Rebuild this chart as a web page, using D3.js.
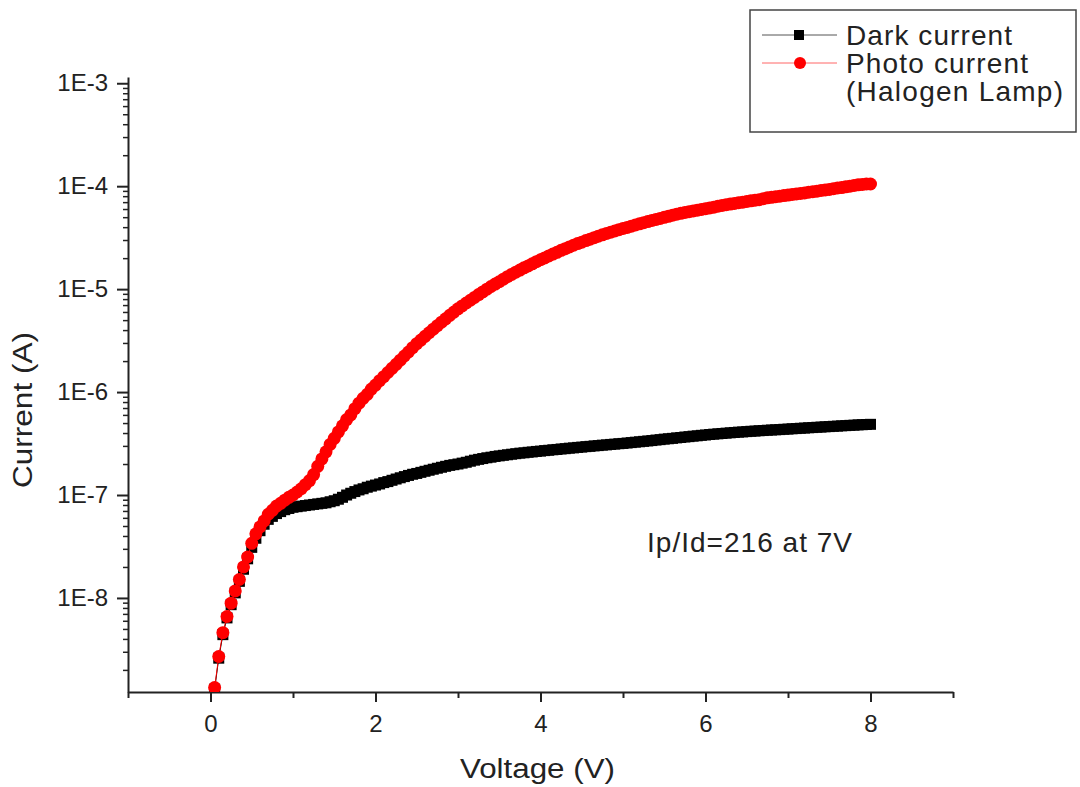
<!DOCTYPE html>
<html>
<head>
<meta charset="utf-8">
<script src="https://cdn.jsdelivr.net/npm/d3@7"></script>
<style>
  body { margin: 0; background: #fff; }
  svg { display: block; font-family: "Liberation Sans", Arial, sans-serif; }
  .axis path, .axis line { stroke: #222; }
  .axis text { fill: #222; font-size: 24px; font-family: "Liberation Sans", Arial, sans-serif; }
</style>
</head>
<body>
<div id="chart"></div>
<script>
// voltage sweep (V)
var voltage = [
  0.05, 0.10, 0.15, 0.20, 0.25, 0.30, 0.35, 0.40, 0.45, 0.50,
  0.55, 0.60, 0.65, 0.70, 0.75, 0.80, 0.85, 0.90, 0.95, 1.00,
  1.05, 1.10, 1.15, 1.20, 1.25, 1.30, 1.35, 1.40, 1.45, 1.50,
  1.55, 1.60, 1.65, 1.70, 1.75, 1.80, 1.85, 1.90, 1.95, 2.00,
  2.05, 2.10, 2.15, 2.20, 2.25, 2.30, 2.35, 2.40, 2.45, 2.50,
  2.55, 2.60, 2.65, 2.70, 2.75, 2.80, 2.85, 2.90, 2.95, 3.00,
  3.05, 3.10, 3.15, 3.20, 3.25, 3.30, 3.35, 3.40, 3.45, 3.50,
  3.55, 3.60, 3.65, 3.70, 3.75, 3.80, 3.85, 3.90, 3.95, 4.00,
  4.05, 4.10, 4.15, 4.20, 4.25, 4.30, 4.35, 4.40, 4.45, 4.50,
  4.55, 4.60, 4.65, 4.70, 4.75, 4.80, 4.85, 4.90, 4.95, 5.00,
  5.05, 5.10, 5.15, 5.20, 5.25, 5.30, 5.35, 5.40, 5.45, 5.50,
  5.55, 5.60, 5.65, 5.70, 5.75, 5.80, 5.85, 5.90, 5.95, 6.00,
  6.05, 6.10, 6.15, 6.20, 6.25, 6.30, 6.35, 6.40, 6.45, 6.50,
  6.55, 6.60, 6.65, 6.70, 6.75, 6.80, 6.85, 6.90, 6.95, 7.00,
  7.05, 7.10, 7.15, 7.20, 7.25, 7.30, 7.35, 7.40, 7.45, 7.50,
  7.55, 7.60, 7.65, 7.70, 7.75, 7.80, 7.85, 7.90, 7.95, 8.00
];
// dark current (A)
var darkCurrent = [
  1.3e-9, 2.6e-9, 4.4e-9, 6.4e-9, 8.6e-9, 1.12e-8, 1.45e-8, 1.9e-8, 2.4e-8, 3.1e-8,
  3.8e-8, 4.5e-8, 5.2e-8, 5.8e-8, 6.2e-8, 6.6e-8, 6.9e-8, 7.2e-8, 7.4e-8, 7.6e-8,
  7.7e-8, 7.8e-8, 7.9e-8, 8.0e-8, 8.1e-8, 8.2e-8, 8.3e-8, 8.4e-8, 8.6e-8, 8.8e-8,
  9.1e-8, 9.5e-8, 1.0e-7, 1.04e-7, 1.08e-7, 1.12e-7, 1.15e-7, 1.19e-7, 1.22e-7, 1.25e-7,
  1.28e-7, 1.32e-7, 1.35e-7, 1.39e-7, 1.43e-7, 1.47e-7, 1.51e-7, 1.55e-7, 1.59e-7, 1.62e-7,
  1.66e-7, 1.7e-7, 1.74e-7, 1.78e-7, 1.82e-7, 1.86e-7, 1.9e-7, 1.94e-7, 1.97e-7, 2.0e-7,
  2.04e-7, 2.08e-7, 2.13e-7, 2.18e-7, 2.22e-7, 2.26e-7, 2.3e-7, 2.33e-7, 2.37e-7, 2.4e-7,
  2.43e-7, 2.46e-7, 2.49e-7, 2.52e-7, 2.55e-7, 2.57e-7, 2.6e-7, 2.62e-7, 2.65e-7, 2.67e-7,
  2.7e-7, 2.72e-7, 2.75e-7, 2.77e-7, 2.8e-7, 2.82e-7, 2.85e-7, 2.87e-7, 2.9e-7, 2.92e-7,
  2.95e-7, 2.97e-7, 3.0e-7, 3.02e-7, 3.05e-7, 3.07e-7, 3.1e-7, 3.12e-7, 3.15e-7, 3.17e-7,
  3.2e-7, 3.23e-7, 3.26e-7, 3.29e-7, 3.32e-7, 3.35e-7, 3.38e-7, 3.42e-7, 3.45e-7, 3.49e-7,
  3.52e-7, 3.55e-7, 3.59e-7, 3.62e-7, 3.66e-7, 3.69e-7, 3.73e-7, 3.76e-7, 3.8e-7, 3.83e-7,
  3.87e-7, 3.9e-7, 3.93e-7, 3.96e-7, 3.99e-7, 4.02e-7, 4.05e-7, 4.08e-7, 4.1e-7, 4.13e-7,
  4.16e-7, 4.18e-7, 4.21e-7, 4.23e-7, 4.26e-7, 4.28e-7, 4.3e-7, 4.32e-7, 4.35e-7, 4.37e-7,
  4.4e-7, 4.42e-7, 4.45e-7, 4.47e-7, 4.5e-7, 4.52e-7, 4.55e-7, 4.57e-7, 4.6e-7, 4.62e-7,
  4.65e-7, 4.67e-7, 4.7e-7, 4.72e-7, 4.75e-7, 4.77e-7, 4.8e-7, 4.82e-7, 4.84e-7, 4.86e-7
];
// photo current under halogen lamp (A)
var photoCurrent = [
  1.35e-9, 2.7e-9, 4.6e-9, 6.6e-9, 8.9e-9, 1.17e-8, 1.51e-8, 2.0e-8, 2.5e-8, 3.4e-8,
  4.2e-8, 4.9e-8, 5.6e-8, 6.5e-8, 7.1e-8, 7.8e-8, 8.3e-8, 8.9e-8, 9.5e-8, 1.0e-7,
  1.07e-7, 1.15e-7, 1.26e-7, 1.38e-7, 1.58e-7, 1.9e-7, 2.24e-7, 2.63e-7, 3.1e-7, 3.55e-7,
  4.1e-7, 4.7e-7, 5.4e-7, 6.0e-7, 6.9e-7, 7.8e-7, 8.7e-7, 9.5e-7, 1.07e-6, 1.17e-6,
  1.29e-6, 1.41e-6, 1.55e-6, 1.7e-6, 1.86e-6, 2.04e-6, 2.24e-6, 2.45e-6, 2.7e-6, 2.95e-6,
  3.2e-6, 3.48e-6, 3.77e-6, 4.08e-6, 4.42e-6, 4.78e-6, 5.15e-6, 5.56e-6, 5.98e-6, 6.44e-6,
  6.87e-6, 7.33e-6, 7.8e-6, 8.3e-6, 8.85e-6, 9.4e-6, 9.98e-6, 1.06e-5, 1.12e-5, 1.18e-5,
  1.25e-5, 1.32e-5, 1.39e-5, 1.46e-5, 1.53e-5, 1.61e-5, 1.68e-5, 1.76e-5, 1.85e-5, 1.93e-5,
  2.01e-5, 2.1e-5, 2.19e-5, 2.28e-5, 2.38e-5, 2.47e-5, 2.57e-5, 2.67e-5, 2.77e-5, 2.86e-5,
  2.96e-5, 3.06e-5, 3.16e-5, 3.27e-5, 3.37e-5, 3.47e-5, 3.57e-5, 3.67e-5, 3.78e-5, 3.88e-5,
  3.98e-5, 4.09e-5, 4.2e-5, 4.31e-5, 4.42e-5, 4.53e-5, 4.65e-5, 4.75e-5, 4.86e-5, 4.98e-5,
  5.1e-5, 5.22e-5, 5.35e-5, 5.45e-5, 5.55e-5, 5.65e-5, 5.75e-5, 5.85e-5, 5.95e-5, 6.05e-5,
  6.15e-5, 6.25e-5, 6.4e-5, 6.5e-5, 6.6e-5, 6.7e-5, 6.8e-5, 6.9e-5, 7.0e-5, 7.1e-5,
  7.2e-5, 7.3e-5, 7.4e-5, 7.55e-5, 7.7e-5, 7.8e-5, 7.9e-5, 8.0e-5, 8.1e-5, 8.2e-5,
  8.3e-5, 8.4e-5, 8.5e-5, 8.6e-5, 8.75e-5, 8.85e-5, 8.95e-5, 9.1e-5, 9.2e-5, 9.3e-5,
  9.45e-5, 9.6e-5, 9.7e-5, 9.85e-5, 1.0e-4, 1.015e-4, 1.03e-4, 1.04e-4, 1.05e-4, 1.05e-4
];
var seriesNames = ['Dark current', 'Photo current', '(Halogen Lamp)'];
var seriesColors = ['#000000', '#ff0000'];
var xTicks = [-1, 0, 1, 2, 3, 4, 5, 6, 7, 8, 9];
var xTickLabels = ['', '0', '', '2', '', '4', '', '6', '', '8', ''];
var yTicks = [1e-8, 1e-7, 1e-6, 1e-5, 1e-4, 1e-3];
var yTickLabels = ['1E-8', '1E-7', '1E-6', '1E-5', '1E-4', '1E-3'];
var annotation = 'Ip/Id=216 at 7V';

var width = 1080, height = 787;
var plotLeft = 128, plotRight = 953, plotTop = 77, plotBottom = 692;

var svg = d3.select('#chart').append('svg')
  .attr('width', width)
  .attr('height', height);

var x = d3.scaleLinear().domain([-1, 9]).range([plotLeft, plotRight]);
var y = d3.scaleLog().domain([1.22e-9, 1.15e-3]).range([plotBottom, plotTop]);

// minor ticks on the log axis
var yMinor = [];
yTicks.concat([1e-9]).forEach(function (d) {
  for (var k = 2; k <= 9; k++) {
    var v = d * k;
    if (v >= y.domain()[0] && v <= y.domain()[1]) yMinor.push(v);
  }
});

svg.append('g')
  .attr('class', 'axis')
  .attr('transform', 'translate(' + plotLeft + ',0)')
  .call(d3.axisLeft(y).tickValues(yMinor).tickSize(5).tickFormat(''))
  .call(function (g) { g.select('.domain').remove(); })
  .selectAll('line').attr('stroke-width', 1.5);

svg.append('g')
  .attr('class', 'axis')
  .attr('transform', 'translate(' + plotLeft + ',0)')
  .call(d3.axisLeft(y).tickValues(yTicks).tickSizeInner(11).tickSizeOuter(0).tickPadding(9)
    .tickFormat(function (d, i) { return yTickLabels[i]; }))
  .call(function (g) {
    g.select('.domain').attr('stroke-width', 2);
    g.selectAll('line').attr('stroke-width', 2);
  });

var xAxis = svg.append('g')
  .attr('class', 'axis')
  .attr('transform', 'translate(0,' + plotBottom + ')')
  .call(d3.axisBottom(x).tickValues(xTicks).tickSizeInner(10).tickSizeOuter(0).tickPadding(13)
    .tickFormat(function (d, i) { return xTickLabels[i]; }));
xAxis.select('.domain').attr('stroke-width', 2);
xAxis.selectAll('.tick line')
  .attr('stroke-width', 2)
  .attr('y2', function (d, i) { return xTickLabels[i] ? 10 : 6; });

// axis titles
svg.append('text')
  .attr('x', (plotLeft + plotRight) / 2 - 3)
  .attr('y', 778)
  .attr('text-anchor', 'middle')
  .attr('font-size', 27)
  .attr('fill', '#222')
  .attr('textLength', 155)
  .attr('lengthAdjust', 'spacingAndGlyphs')
  .text('Voltage (V)');

svg.append('text')
  .attr('transform', 'translate(32,410) rotate(-90)')
  .attr('text-anchor', 'middle')
  .attr('font-size', 27)
  .attr('fill', '#222')
  .attr('textLength', 156)
  .attr('lengthAdjust', 'spacingAndGlyphs')
  .text('Current (A)');

// data
svg.append('clipPath').attr('id', 'plot-clip')
  .append('rect')
  .attr('x', plotLeft).attr('y', plotTop - 20)
  .attr('width', plotRight - plotLeft).attr('height', plotBottom - plotTop + 20);

var plot = svg.append('g').attr('clip-path', 'url(#plot-clip)');

var line = d3.line()
  .x(function (d) { return x(d[0]); })
  .y(function (d) { return y(d[1]); });

var darkData = voltage.map(function (v, i) { return [v, darkCurrent[i]]; });
var photoData = voltage.map(function (v, i) { return [v, photoCurrent[i]]; });

plot.append('path')
  .datum(darkData)
  .attr('fill', 'none')
  .attr('stroke', seriesColors[0])
  .attr('stroke-width', 1)
  .attr('d', line);

plot.selectAll('rect.dark')
  .data(darkData)
  .enter()
  .append('rect')
  .attr('class', 'dark')
  .attr('x', function (d) { return x(d[0]) - 5.5; })
  .attr('y', function (d) { return y(d[1]) - 5.5; })
  .attr('width', 11)
  .attr('height', 11)
  .attr('fill', seriesColors[0]);

plot.append('path')
  .datum(photoData)
  .attr('fill', 'none')
  .attr('stroke', seriesColors[1])
  .attr('stroke-width', 1)
  .attr('d', line);

plot.selectAll('circle.photo')
  .data(photoData)
  .enter()
  .append('circle')
  .attr('class', 'photo')
  .attr('cx', function (d) { return x(d[0]); })
  .attr('cy', function (d) { return y(d[1]); })
  .attr('r', 6.5)
  .attr('fill', seriesColors[1]);

// annotation
svg.append('text')
  .attr('x', 647)
  .attr('y', 552)
  .attr('font-size', 28)
  .attr('fill', '#222')
  .attr('textLength', 205)
  .attr('lengthAdjust', 'spacing')
  .text(annotation);

// legend
var legend = svg.append('g');
legend.append('rect')
  .attr('x', 750).attr('y', 10)
  .attr('width', 326).attr('height', 122)
  .attr('fill', '#fff')
  .attr('stroke', '#444')
  .attr('stroke-width', 1.5);

legend.append('line')
  .attr('x1', 762).attr('x2', 837).attr('y1', 35).attr('y2', 35)
  .attr('stroke', '#555').attr('stroke-width', 1);
legend.append('rect')
  .attr('x', 794).attr('y', 30).attr('width', 10).attr('height', 10)
  .attr('fill', seriesColors[0]);
legend.append('line')
  .attr('x1', 762).attr('x2', 837).attr('y1', 63).attr('y2', 63)
  .attr('stroke', '#f66').attr('stroke-width', 1);
legend.append('circle')
  .attr('cx', 800).attr('cy', 63).attr('r', 6)
  .attr('fill', seriesColors[1]);

legend.selectAll('text.name')
  .data(seriesNames)
  .enter()
  .append('text')
  .attr('class', 'name')
  .attr('x', 846)
  .attr('y', function (d, i) { return 45 + i * 28; })
  .attr('font-size', 28)
  .attr('fill', '#222')
  .attr('textLength', function (d, i) { return [166, 182, 217][i]; })
  .attr('lengthAdjust', 'spacing')
  .text(function (d) { return d; });
</script>
</body>
</html>
